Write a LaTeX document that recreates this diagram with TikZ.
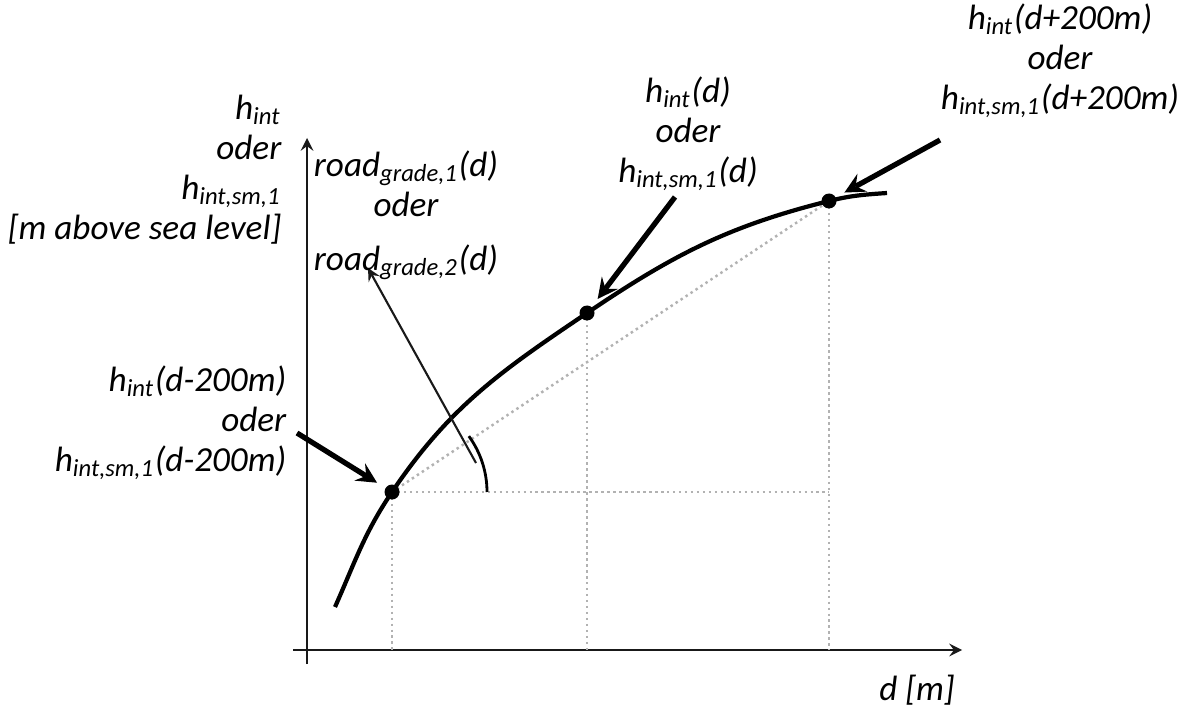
\documentclass[tikz,border=0pt]{standalone}
\usepackage{fontspec}
\setmainfont{Carlito}
\newcommand{\lowtx}[1]{\textsubscript{#1}}

\begin{document}
\begin{tikzpicture}[x=0.01cm,y=0.01cm,
  lbl/.style={font=\itshape\fontsize{10}{11.4}\selectfont, inner sep=0pt},
  guide/.style={gray!60, densely dotted, line width=0.7pt},
  pointer/.style={->,>=stealth, line width=1.5pt, shorten >=5pt}]
  \useasboundingbox (0,0) rectangle (1177,706);
  % axes
  \coordinate (ybot) at (307,42);
  \coordinate (ytop) at (307,568);
  \coordinate (xbeg) at (293,56);
  \coordinate (xend) at (962,56);
  \draw[->,>=stealth, line width=0.6pt, gray!20!black] (ybot) -- (ytop);
  \draw[->,>=stealth, line width=0.6pt, gray!20!black] (xbeg) -- (xend);
  % points on the curve
  \coordinate (p0) at (335,99);
  \coordinate (p1) at (392,214);
  \coordinate (p2) at (587,393);
  \coordinate (p3) at (829,505);
  \coordinate (p4) at (887,513);
  \draw[guide] (p1) -- (p1 |- xbeg);
  \draw[guide] (p2) -- (p2 |- xbeg);
  \draw[guide] (p3) -- (p3 |- xbeg);
  \draw[guide] (p1) -- (p1 -| p3);
  \draw[guide] (p1) -- (p3);
  \draw[line width=1.2pt] (p0) to[out=66,in=236] (p1) to[out=56,in=214] (p2)
    to[out=34,in=194] (p3) to[out=14,in=184] (p4);
  \fill (p1) circle (7.5);
  \fill (p2) circle (7.5);
  \fill (p3) circle (7.5);
  % angle
  \draw[line width=0.8pt] (p1) ++(0:95) arc (0:36:95);
  \coordinate (angin) at (476,243);
  \coordinate (angout) at (368,438);
  \draw[->,>=stealth, line width=0.6pt, gray!20!black] (angin) -- (angout);
  % labels
  \node[lbl, align=right, anchor=north east] (yname) at (282,612)
    {h\lowtx{int}\\oder\\h\lowtx{int,sm,1}\\{}[m above sea level]};
  \node[lbl, align=center, anchor=north] (slopename) at (406,556)
    {road\lowtx{grade,1}(d)\\oder\\[4pt]road\lowtx{grade,2}(d)};
  \node[lbl, align=center, anchor=north] (midname) at (688,630)
    {h\lowtx{int}(d)\\oder\\h\lowtx{int,sm,1}(d)};
  \node[lbl, align=center, anchor=north] (rightname) at (1060,703)
    {h\lowtx{int}(d+200m)\\oder\\h\lowtx{int,sm,1}(d+200m)};
  \node[lbl, align=right, anchor=north east] (leftname) at (287,341)
    {h\lowtx{int}(d-200m)\\oder\\h\lowtx{int,sm,1}(d-200m)};
  \node[lbl] (xname) at (917,16) {d [m]};
  % pointers
  \coordinate (t1) at (297,273);
  \coordinate (t2) at (675,509);
  \coordinate (t3) at (940,566);
  \draw[pointer] (t1) -- (p1);
  \draw[pointer] (t2) -- (p2);
  \draw[pointer] (t3) -- (p3);
\end{tikzpicture}
\end{document}
